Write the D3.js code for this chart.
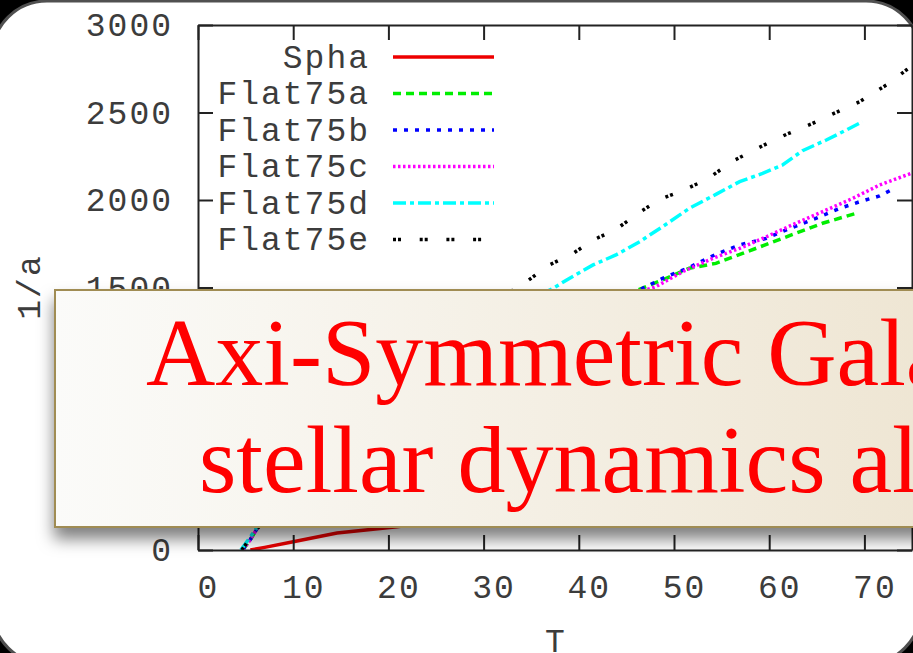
<!DOCTYPE HTML>
<html>
<head>
	<meta charset="UTF-8">
	<script src="https://d3js.org/d3.v7.min.js"></script>
	<style type="text/css">
	body { margin: 0; background: #000; overflow: hidden; }
	.tick text, .lab { font-family: "Liberation Mono", monospace; font-size: 33px; fill: #3c3c3c; letter-spacing: 2px; }
	.axis path, .axis line { stroke: #222; stroke-width: 2; }
	.title { font-family: "Liberation Serif", "Times New Roman", serif; font-size: 96px; fill: #ff0000; }
	</style>
	<title>1/a vs T</title>
</head>
<body>
<div id="svgArea"></div>
<script>
var width = 913, height = 653;

// tick values
var xTicks = [0, 10, 20, 30, 40, 50, 60, 70];
var yTicks = [0, 500, 1000, 1500, 2000, 2500, 3000];

// series (T, 1/a); the middle parts sit behind the caption box
var names = ["Spha", "Flat75a", "Flat75b", "Flat75c", "Flat75d", "Flat75e"];

var tSpha = [5.5, 7, 10, 14.6, 20.9, 30, 40, 50, 60, 70, 76];
var vSpha = [0, 15, 47, 97, 133, 200, 280, 360, 440, 520, 570];

var tFlatA = [4.7, 5.5, 6.3, 8, 12, 18, 25, 32, 40, 45, 48.8, 51.6, 54.4, 57.2, 60, 62.8, 65.6, 69.3];
var vFlatA = [0, 60, 130, 250, 450, 700, 950, 1150, 1350, 1460, 1543, 1610, 1638, 1695, 1752, 1810, 1867, 1927];

var tFlatB = [4.7, 5.5, 6.3, 8, 12, 18, 25, 32, 40, 46.7, 48.8, 51.6, 54.4, 56.9, 59.7, 61.8, 64.9, 67.4, 69.5, 71.6, 72.8];
var vFlatB = [0, 60, 130, 250, 460, 710, 960, 1170, 1360, 1495, 1552, 1615, 1690, 1743, 1781, 1829, 1895, 1952, 1990, 2023, 2057];

var tFlatC = [4.7, 5.5, 6.3, 8, 12, 18, 25, 32, 40, 48.1, 50.9, 54.1, 56.9, 59.7, 62.8, 66, 68.8, 71.6, 74.9, 76];
var vFlatC = [0, 60, 130, 250, 460, 710, 960, 1170, 1360, 1505, 1590, 1667, 1724, 1790, 1867, 1943, 2010, 2086, 2152, 2180];

var tFlatD = [4.5, 5.3, 6.2, 8, 12, 18, 25, 32, 37.3, 39, 41.5, 43.9, 46.4, 48.8, 51.6, 54.4, 56.9, 59.3, 61.4, 63.5, 66, 68.1, 69.8];
var vFlatD = [0, 60, 130, 300, 560, 870, 1130, 1350, 1495, 1552, 1629, 1686, 1762, 1848, 1952, 2032, 2105, 2152, 2200, 2282, 2343, 2400, 2448];

var tFlatE = [4.6, 5.5, 6.5, 8, 12, 18, 25, 30, 34.5, 36.9, 39.4, 41.5, 43.9, 46.4, 48.5, 50.9, 53.5, 56.2, 59.3, 61.8, 64.4, 66.8, 69.5, 72.3, 74.4, 75.5];
var vFlatE = [0, 70, 140, 320, 600, 920, 1200, 1380, 1533, 1629, 1695, 1771, 1832, 1930, 2004, 2053, 2120, 2223, 2310, 2375, 2434, 2495, 2562, 2657, 2743, 2785];

var captionLines = ["Axi-Symmetric Galaxies", "stellar dynamics algorithm"];

// gnuplot style line types
var styles = [
    {color: "#ee0000", dash: null},
    {color: "#00ee00", dash: "8,5"},
    {color: "#0000ff", dash: "4,7"},
    {color: "#ff00ff", dash: "2.5,2.5"},
    {color: "#00ffff", dash: "13,4,4,4"},
    {color: "#000000", dash: "3,2,3,18.7"}
];
var series = [[tSpha, vSpha], [tFlatA, vFlatA], [tFlatB, vFlatB], [tFlatC, vFlatC], [tFlatD, vFlatD], [tFlatE, vFlatE]];

var plot = {left: 198, right: 912, top: 25, bottom: 550};

var x = d3.scaleLinear().domain([0, 75]).range([plot.left, plot.right]);
var y = d3.scaleLinear().domain([0, 3000]).range([plot.bottom, plot.top]);

var svg = d3.select("#svgArea").append("svg")
    .attr("width", width)
    .attr("height", height);

var defs = svg.append("defs");
defs.append("clipPath").attr("id", "plotClip")
    .append("rect")
    .attr("x", plot.left).attr("y", plot.top)
    .attr("width", plot.right - plot.left).attr("height", plot.bottom - plot.top);

var grad = defs.append("linearGradient").attr("id", "boxFill");
grad.append("stop").attr("offset", "0%").attr("stop-color", "#fbfbf9");
grad.append("stop").attr("offset", "100%").attr("stop-color", "#eee5d2");

var shadow = defs.append("filter").attr("id", "shadow")
    .attr("x", "-10%").attr("y", "-10%").attr("width", "130%").attr("height", "140%");
shadow.append("feDropShadow")
    .attr("dx", 0).attr("dy", 11).attr("stdDeviation", 8)
    .attr("flood-color", "#000").attr("flood-opacity", 0.5);

// dark frame with white rounded page
svg.append("rect").attr("width", width).attr("height", height).attr("fill", "#000");
svg.append("rect")
    .attr("x", -8).attr("y", 1)
    .attr("width", 929).attr("height", 663)
    .attr("rx", 55)
    .attr("fill", "#fff")
    .attr("stroke", "#505050")
    .attr("stroke-width", 3);

// curves
var line = d3.line()
    .x(function(d) { return x(d[0]); })
    .y(function(d) { return y(d[1]); });

var curves = svg.append("g").attr("clip-path", "url(#plotClip)");
series.forEach(function(s, i) {
    var pts = s[0].map(function(t, j) { return [t, s[1][j]]; });
    curves.append("path")
        .attr("d", line(pts))
        .attr("fill", "none")
        .attr("stroke", styles[i].color)
        .attr("stroke-width", 3.5)
        .attr("stroke-dasharray", styles[i].dash);
});

// axes, ticks inward like gnuplot
var fmt = d3.format("d");
svg.append("g").attr("class", "axis")
    .attr("transform", "translate(" + plot.left + ",0)")
    .call(d3.axisLeft(y).tickValues(yTicks).tickFormat(fmt).tickSize(-15).tickSizeOuter(0).tickPadding(25));
svg.append("g").attr("class", "axis")
    .attr("transform", "translate(" + plot.right + ",0)")
    .call(d3.axisRight(y).tickValues(yTicks).tickSize(-15).tickSizeOuter(0).tickFormat(""));
svg.append("g").attr("class", "axis")
    .attr("transform", "translate(0," + plot.top + ")")
    .call(d3.axisTop(x).tickValues(xTicks).tickSize(-15).tickSizeOuter(0).tickFormat(""));
svg.append("g").attr("class", "axis x")
    .attr("transform", "translate(0," + plot.bottom + ")")
    .call(d3.axisBottom(x).tickValues(xTicks).tickFormat(fmt).tickSize(-15).tickSizeOuter(0).tickPadding(25));
svg.selectAll(".axis .domain").attr("fill", "none");
svg.selectAll(".axis text").attr("font-family", null).attr("font-size", null).attr("fill", null);
svg.selectAll(".axis.x text").attr("dx", 10);
svg.selectAll(".axis text").filter(function() { return !d3.select(this.parentNode.parentNode).classed("x"); })
    .attr("dy", "0.32em");

// axis titles
svg.append("text").attr("class", "lab")
    .attr("transform", "translate(40,287) rotate(-90)")
    .attr("text-anchor", "middle")
    .text("1/a");
svg.append("text").attr("class", "lab")
    .attr("x", 556).attr("y", 652)
    .attr("text-anchor", "middle")
    .text("T");

// key
var key = svg.append("g");
names.forEach(function(n, i) {
    var ky = 57 + i * 36.5;
    key.append("text").attr("class", "lab")
        .attr("x", 370).attr("y", ky).attr("dy", "0.32em")
        .attr("text-anchor", "end")
        .text(n);
    key.append("line")
        .attr("x1", 393).attr("x2", 494)
        .attr("y1", ky).attr("y2", ky)
        .attr("stroke", styles[i].color)
        .attr("stroke-width", 3.5)
        .attr("stroke-dasharray", styles[i].dash);
});

// caption box laid over the plot
svg.append("rect")
    .attr("x", 55).attr("y", 290)
    .attr("width", 900).attr("height", 237)
    .attr("fill", "url(#boxFill)")
    .attr("stroke", "#a08c52")
    .attr("stroke-width", 2)
    .attr("filter", "url(#shadow)");
svg.append("text").attr("class", "title")
    .attr("x", 146).attr("y", 385)
    .text(captionLines[0]);
svg.append("text").attr("class", "title")
    .attr("x", 199).attr("y", 492)
    .text(captionLines[1]);
</script>
</body>
</html>
